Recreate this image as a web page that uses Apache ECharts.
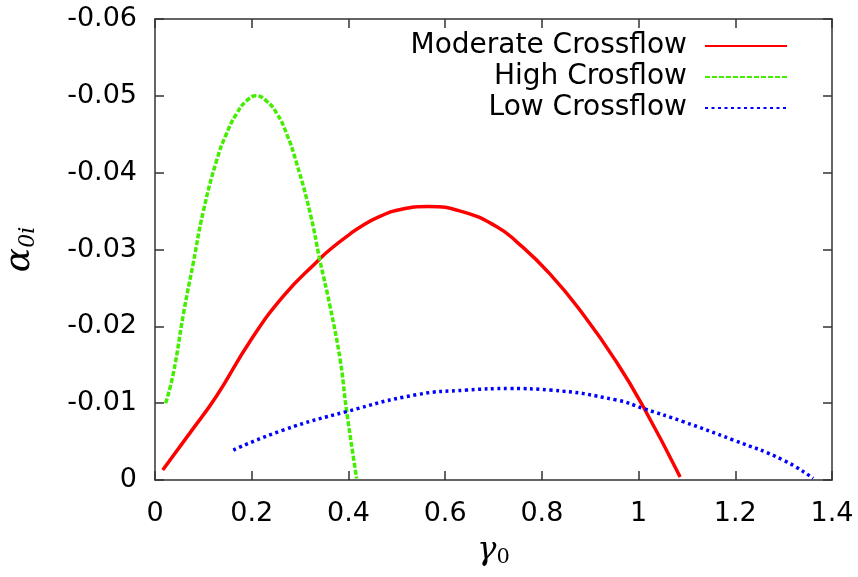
<!DOCTYPE html>
<html><head><meta charset="utf-8">
<script src="https://cdn.jsdelivr.net/npm/echarts@6/dist/echarts.min.js"></script>
<style>html,body{margin:0;padding:0;background:#fff}#c{width:858px;height:577px}</style>
</head><body><div id="c"></div>
<script>
const moderateX = [0.016, 0.072, 0.128, 0.196, 0.265, 0.338, 0.362, 0.403, 0.431, 0.465, 0.500, 0.565, 0.637, 0.706, 0.748, 0.817, 0.886, 0.955, 1.010, 1.086];
const moderateY = [-0.0013, -0.0061, -0.0110, -0.0180, -0.0239, -0.0286, -0.0300, -0.0320, -0.0332, -0.0343, -0.0351, -0.0356, -0.0349, -0.0330, -0.0310, -0.0268, -0.0215, -0.0153, -0.0095, -0.0004];
const highX = [0.022, 0.038, 0.059, 0.079, 0.100, 0.128, 0.148, 0.169, 0.190, 0.209, 0.231, 0.252, 0.272, 0.293, 0.321, 0.341, 0.362, 0.383, 0.396, 0.417];
const highY = [-0.0100, -0.0139, -0.0217, -0.0282, -0.0350, -0.0417, -0.0451, -0.0477, -0.0494, -0.0500, -0.0493, -0.0477, -0.0451, -0.0412, -0.0347, -0.0286, -0.0226, -0.0156, -0.0091, -0.0002];
const lowX = [0.162, 0.265, 0.396, 0.541, 0.644, 0.734, 0.817, 0.955, 1.010, 1.092, 1.196, 1.299, 1.361];
const lowY = [-0.0039, -0.0065, -0.0089, -0.0111, -0.0117, -0.0119, -0.0117, -0.0104, -0.0093, -0.0076, -0.0052, -0.0026, -0.0002];
const seriesNames = ['Moderate Crossflow', 'High Crosflow', 'Low Crossflow'];
const xTicks = [0, 0.2, 0.4, 0.6, 0.8, 1, 1.2, 1.4];
const yTicks = [0, -0.01, -0.02, -0.03, -0.04, -0.05, -0.06];

const zip = (xs, ys) => xs.map((x, i) => [x, ys[i]]);
const FONT = 'DejaVu Sans';
const axisLine = {show: true, onZero: false, lineStyle: {color: '#333', width: 1.5}};
const tick = {show: true, inside: true, length: 9, lineStyle: {color: '#333', width: 1.5}};

const chart = echarts.init(document.getElementById('c'), null, {renderer: 'canvas'});
chart.setOption({
  animation: false,
  backgroundColor: '#fff',
  grid: {left: 155, right: 26, top: 19, bottom: 97, containLabel: false, outerBoundsMode: 'none'},
  legend: {
    orient: 'vertical', align: 'right', right: 70, top: 32, padding: 0,
    itemWidth: 82, itemHeight: 14, itemGap: 3,
    itemStyle: {opacity: 0},
    textStyle: {fontFamily: FONT, fontSize: 28, color: '#000', lineHeight: 28, padding: [0, 13, 0, 0]},
    data: seriesNames
  },
  xAxis: [{
    type: 'value', min: 0, max: 1.4, interval: 0.2,
    axisLine, axisTick: tick, splitLine: {show: false},
    axisLabel: {fontFamily: FONT, fontSize: 27, color: '#000', margin: 20,
      formatter: v => { const t = xTicks.find(k => Math.abs(k - v) < 1e-9); return t === undefined ? '' : String(t); }},
    name: '{g|γ}{s|0}', nameLocation: 'middle', nameGap: 53,
    nameTextStyle: {rich: {
      g: {fontFamily: 'DejaVu Serif', fontStyle: 'italic', fontSize: 32, color: '#000'},
      s: {fontFamily: 'DejaVu Serif', fontSize: 21, color: '#000', padding: [14, 0, 0, 0]}
    }}
  }, {
    type: 'value', min: 0, max: 1.4, interval: 0.2, position: 'top',
    axisLine, axisTick: tick, axisLabel: {show: false}, splitLine: {show: false}
  }],
  yAxis: [{
    type: 'value', min: -0.06, max: 0, interval: 0.01, inverse: true,
    axisLine, axisTick: tick, splitLine: {show: false},
    axisLabel: {fontFamily: FONT, fontSize: 27, color: '#000', margin: 18,
      formatter: v => { const t = yTicks.find(k => Math.abs(k - v) < 1e-9); return t === undefined ? '' : (t === 0 ? '0' : t.toFixed(2)); }},
    name: '{a|α}{s|0i}', nameLocation: 'middle', nameGap: 116, nameRotate: 90,
    nameTextStyle: {rich: {
      a: {fontFamily: 'DejaVu Serif', fontStyle: 'italic', fontSize: 36, color: '#000'},
      s: {fontFamily: 'DejaVu Serif', fontStyle: 'italic', fontSize: 22, color: '#000', padding: [16, 0, 0, 0]}
    }}
  }, {
    type: 'value', min: -0.06, max: 0, interval: 0.01, inverse: true, position: 'right',
    axisLine, axisTick: tick, axisLabel: {show: false}, splitLine: {show: false}
  }],
  series: [
    {name: seriesNames[0], type: 'line', data: zip(moderateX, moderateY), smooth: 0.5, symbol: 'none',
      lineStyle: {color: '#ff0000', width: 3.5}, itemStyle: {color: '#ff0000'}},
    {name: seriesNames[1], type: 'line', data: zip(highX, highY), smooth: 0.5, symbol: 'none',
      lineStyle: {color: '#44ee00', width: 3.5, type: [5, 2]}, itemStyle: {color: '#44ee00'}},
    {name: seriesNames[2], type: 'line', data: zip(lowX, lowY), smooth: 0.5, symbol: 'none',
      lineStyle: {color: '#0000ff', width: 3.5, type: [3, 3.5]}, itemStyle: {color: '#0000ff'}}
  ]
});
</script></body></html>
